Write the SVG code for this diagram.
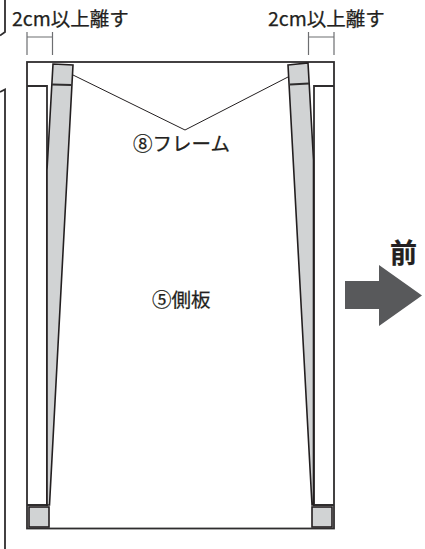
<svg xmlns="http://www.w3.org/2000/svg" width="425" height="549" viewBox="0 0 425 549">
<style>
text{font-family:"Noto Sans CJK JP","Noto Sans",sans-serif;fill:#231f20;stroke:#231f20;stroke-width:.25}
.o{fill:none;stroke:#2f2d2e;stroke-width:1.800}
.b{fill:#d1d3d4;stroke:#231f20;stroke-width:1.600}
.d{fill:none;stroke:#6d6e71;stroke-width:1.200}
.l{fill:none;stroke:#231f20;stroke-width:1}
.t{font-size:19.500px}
</style>
<rect width="425" height="549" fill="#fff"/>
<g id="margin"><path class="o" d="M5 0V32L0 35.500M0 92L5 89.500V549"/></g>
<g id="frame">
<rect class="o" x="27" y="62" width="307" height="466.500"/>
<path class="o" d="M27 86H47V505H27"/>
<path class="o" d="M334 86H314V505H334"/>
</g>
<g id="bar-left"><path class="b" d="M53 64L73 65L49.500 505L47 505V170Z"/><path class="o" d="M52 84.500L71.500 85"/></g>
<g id="bar-right"><path class="b" d="M288 65L308 63L313.500 160V505H312Z"/><path class="o" d="M290 84.500L309 83.500"/></g>
<g id="corner-left"><rect class="b" x="29" y="507" width="20" height="20"/></g>
<g id="corner-right"><rect class="b" x="312" y="507" width="20" height="20"/></g>
<g id="connectors">
<path class="l" d="M73 75L185 130L288 77"/>
<path class="d" d="M27 32V55M52.500 32V55M27 37H52.500"/>
<path class="d" d="M308.500 32V55M334 32V55M308.500 37H334"/>
</g>
<g id="label-left"><text class="t" x="12" y="26">2cm以上離す</text></g>
<g id="label-right"><text class="t" x="268" y="26">2cm以上離す</text></g>
<g id="label-frame"><text class="t" x="133" y="150.500">⑧フレーム</text></g>
<g id="label-side"><text class="t" x="152" y="307">⑤側板</text></g>
<g id="front"><path d="M345 281H379V265L422 295.500L379 326V309H345Z" fill="#58595b"/><text x="403.500" y="263" font-size="27" font-weight="700" text-anchor="middle">前</text></g>
</svg>
